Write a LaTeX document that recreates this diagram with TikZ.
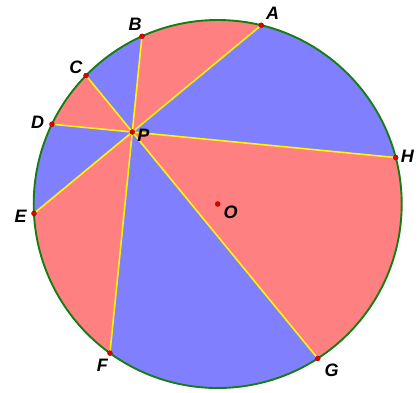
\documentclass[tikz,border=0pt]{standalone}
\usepackage{fontspec}
\setmainfont{Liberation Sans}
\definecolor{regred}{RGB}{255,128,128}
\definecolor{regblue}{RGB}{128,128,255}
\definecolor{rimgreen}{RGB}{20,125,20}
\definecolor{chordyellow}{RGB}{255,245,0}
\definecolor{dotred}{RGB}{225,0,0}
\begin{document}
\begin{tikzpicture}[x=1pt, y=1pt,
  font=\fontsize{18}{20}\selectfont\bfseries\itshape,
  chord/.style={chordyellow, line width=1.6pt},
  rim/.style={rimgreen, line width=1.9pt},
  dot/.style={circle, fill=dotred, draw=red!60!black, line width=0.3pt, inner sep=0pt, minimum size=5pt},
  lbl/.style={inner sep=0pt, text=black},
]
\useasboundingbox (-217.7,-188) rectangle (201.3,204);

%% points on the circle
\coordinate (O) at (0,0);
\coordinate (P) at (-85.4,72);
\coordinate (A) at (76.3:184);
\coordinate (B) at (114.3:184);
\coordinate (C) at (135.7:184);
\coordinate (D) at (154.3:184);
\coordinate (E) at (182.93:184);
\coordinate (F) at (234.14:184);
\coordinate (G) at (302.94:184);
\coordinate (H) at (14.62:184);

%% coloured sectors round P
\foreach \sa/\ea/\col in {14.62/76.3/regblue, 76.3/114.3/regred, 114.3/135.7/regblue,
  135.7/154.3/regred, 154.3/182.93/regblue, 182.93/234.14/regred,
  234.14/302.94/regblue, 302.94/374.62/regred}
  \fill[\col] (P) -- (\sa:184) arc[start angle=\sa, end angle=\ea, radius=184] -- cycle;

%% chords
\draw[chord] (A) -- (E);
\draw[chord] (B) -- (F);
\draw[chord] (C) -- (G);
\draw[chord] (D) -- (H);

\draw[rim] (O) circle[radius=184];

%% dots
\foreach \p in {A,B,C,D,E,F,G,H,P,O}
  \node[dot] (d\p) at (\p) {};

%% labels
\node[lbl] (lA) at (55,190.7)   {A};
\node[lbl] (lB) at (-82.7,180)  {B};
\node[lbl] (lC) at (-141.7,136.3) {C};
\node[lbl] (lD) at (-180,81.3)  {D};
\node[lbl] (lE) at (-197,-12.7) {E};
\node[lbl] (lF) at (-115.4,-161.7) {F};
\node[lbl] (lG) at (114,-166)   {G};
\node[lbl] (lH) at (189.6,47.3) {H};
\node[lbl] (lP) at (-74.4,69)   {P};
\node[lbl] (lO) at (13,-8.3)    {O};

\end{tikzpicture}
\end{document}
